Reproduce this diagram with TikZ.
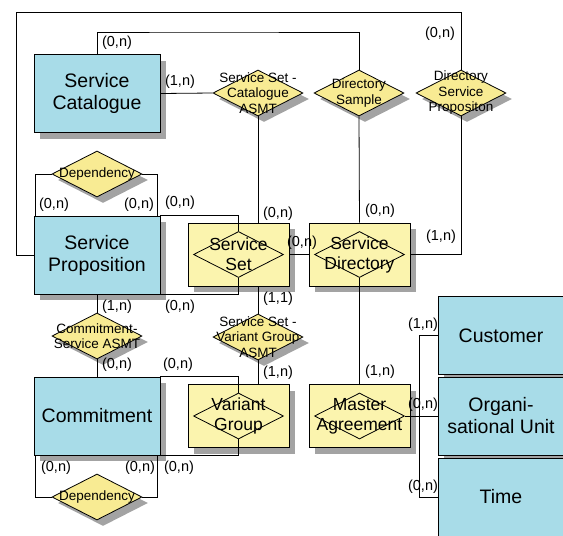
\documentclass[tikz,border=0pt]{standalone}
\usepackage{fontspec}
\setmainfont{Liberation Sans}
\usetikzlibrary{shapes.geometric}
\usetikzlibrary{shadows}

\definecolor{entityblue}{HTML}{A8DCE8}
\definecolor{relyellow}{HTML}{FBF4AE}
\definecolor{diayellow}{HTML}{F8EB93}
\definecolor{shadowgray}{HTML}{A3A3A3}

\tikzset{
  shade6/.style={drop shadow={shadow xshift=6pt, shadow yshift=-6pt, fill=shadowgray, opacity=1}},
  entity/.style={draw, fill=entityblue, minimum width=126pt, minimum height=78pt,
    align=center, inner sep=0, font=\fontsize{19.5}{22}\selectfont, shade6},
  relbox/.style={draw, fill=relyellow, minimum width=101pt, minimum height=63pt,
    align=center, inner sep=0, font=\fontsize{17.5}{20}\selectfont, shade6},
  inrel/.style={draw, diamond, minimum width=90pt, minimum height=46pt, inner sep=0},
  rel/.style={draw, diamond, fill=diayellow, minimum width=90pt, minimum height=46pt,
    inner sep=0, shade6},
  rtext/.style={align=center, inner sep=0, font=\fontsize{13.5}{15.5}\selectfont},
  card/.style={inner sep=0, font=\fontsize{14.5}{16}\selectfont}
}

\begin{document}
\begin{tikzpicture}[x=1pt, y=-1pt, line width=0.8pt]
  \path[use as bounding box] (0,0) rectangle (563,536);
  \clip (0,0) rectangle (563,536);

  % entities
  \node[entity] (sc) at (97,93.5) {Service\\Catalogue};
  \node[entity] (sp) at (97,255) {Service\\Proposition};
  \node[entity] (cm) at (97,416) {Commitment};
  \node[entity] (cust) at (501,335.5) {Customer};
  \node[entity] (org) at (501,416) {Organi-\\sational Unit};
  \node[entity] (time) at (501,497) {Time};

  % relationship entities
  \node[relbox] (ss) at (238.5,254.5) {Service\\Set};
  \node[inrel] (ssd) at (ss) {};
  \node[relbox] (sd) at (359.5,254.5) {Service\\Directory};
  \node[inrel] (sdd) at (sd) {};
  \node[relbox] (vg) at (238.5,416) {Variant\\Group};
  \node[inrel] (vgd) at (vg) {};
  \node[relbox] (ma) at (359.5,416) {Master\\Agreement};
  \node[inrel] (mad) at (ma) {};

  % relationships
  \node[rel, label={[rtext]center:Service Set -\\Catalogue\\ASMT}] (sca) at (258,93) {};
  \node[rel, label={[rtext]center:Directory\\Sample}] (dsamp) at (359,93) {};
  \node[rel, label={[rtext]center:Directory\\Service\\Propositon}] (dsp) at (461,93) {};
  \node[rel, label={[rtext]center:Dependency}] (dep1) at (97,174) {};
  \node[rel, label={[rtext]center:Commitment-\\Service ASMT}] (csa) at (97,336) {};
  \node[rel, label={[rtext]center:Service Set -\\Variant Group\\ASMT}] (svg) at (258,337) {};
  \node[rel, label={[rtext]center:Dependency}] (dep2) at (97,497) {};

  % connectors
  \draw (sp.west) -| (16,12) -| (dsp.north);
  \draw (sc.north) |- (200,32) -| (dsamp.north);
  \draw (sc.east) -- (sca.west);
  \draw (sca.south) -- (sca.south |- ss.north);
  \draw (dsamp.south) -- (sd.north);
  \draw (dsp.south) |- (sd.east);
  \draw (ss.east) -- (sd.west);
  \draw (dep1.west) -| ([xshift=2pt]sp.north west);
  \draw (dep1.east) -| ([xshift=-3pt]sp.north east);
  \draw (sp.north east) -| (ssd.north);
  \draw (sp.south east) -| (ssd.south);
  \draw (sp.south) -- (csa.north);
  \draw (csa.south) -- (cm.north);
  \draw (svg.north) -- (svg.north |- ss.south);
  \draw (svg.south) -- (svg.south |- vg.north);
  \draw (cm.north east) -| (vgd.north);
  \draw (cm.south east) -| (vgd.south);
  \draw (dep2.west) -| ([xshift=2pt]cm.south west);
  \draw (dep2.east) -| ([xshift=-3pt]cm.south east);
  \draw (sdd.south) -- (ma.north);
  \draw (mad.east) -- (org.west);
  \draw (cust.west) -- ++(-18,0) |- (time.west);

  % cardinalities
  \node[card] (k1) at (117,43) {(0,n)};
  \node[card] (k2) at (180,82) {(1,n)};
  \node[card] (k3) at (440,34) {(0,n)};
  \node[card] (k4) at (54,205) {(0,n)};
  \node[card] (k5) at (139,205) {(0,n)};
  \node[card] (k6) at (180,203) {(0,n)};
  \node[card] (k7) at (278,214) {(0,n)};
  \node[card] (k8) at (380,211) {(0,n)};
  \node[card] (k9) at (441,237) {(1,n)};
  \node[card] (k10) at (302,243) {(0,n)};
  \node[card] (k11) at (117,307) {(1,n)};
  \node[card] (k12) at (180,307) {(0,n)};
  \node[card] (k13) at (278,299) {(1,1)};
  \node[card] (k14) at (117,365) {(0,n)};
  \node[card] (k15) at (178,365) {(0,n)};
  \node[card] (k16) at (278,373) {(1,n)};
  \node[card] (k17) at (380,372) {(1,n)};
  \node[card] (k18) at (56,468) {(0,n)};
  \node[card] (k19) at (140,468) {(0,n)};
  \node[card] (k20) at (179,468) {(0,n)};
  \node[card] (k21) at (423,325) {(1,n)};
  \node[card] (k22) at (423,405) {(0,n)};
  \node[card] (k23) at (423,487) {(0,n)};
\end{tikzpicture}
\end{document}
